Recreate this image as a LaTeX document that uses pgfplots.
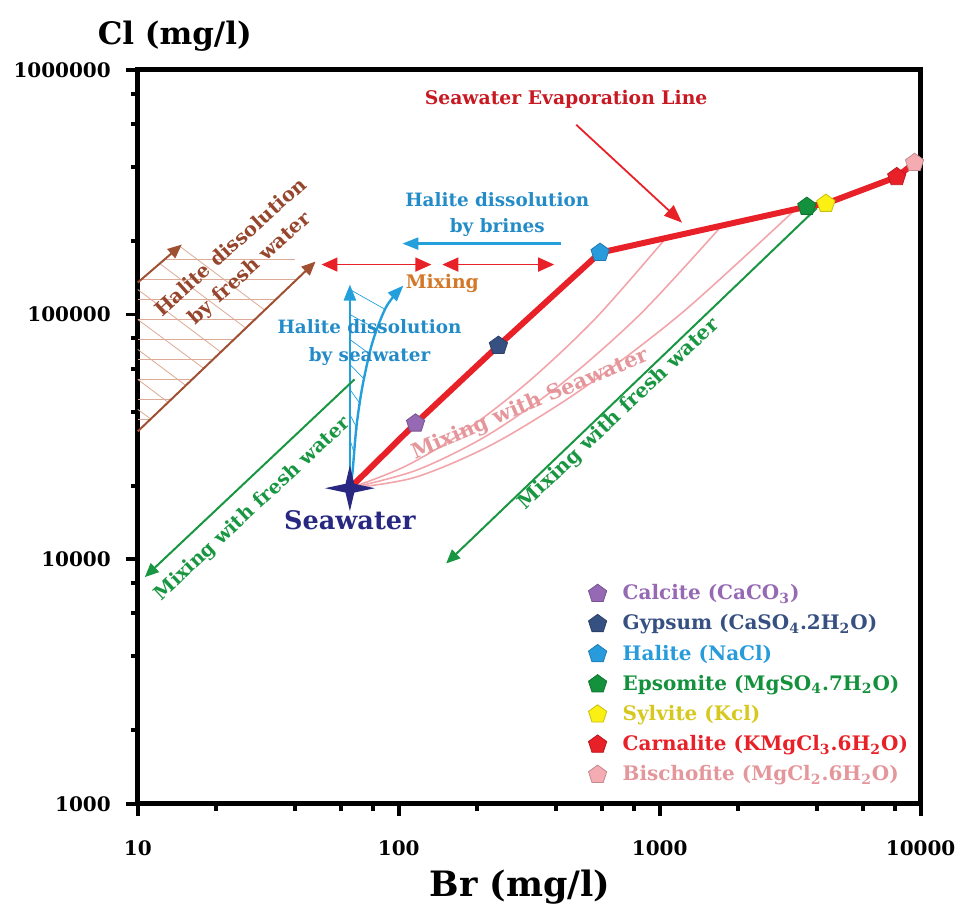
\documentclass[border=0pt]{standalone}
\usepackage{pgfplots}
\pgfplotsset{compat=1.18}
\usepackage{fontspec}
\setmainfont{DejaVu Serif}
\usetikzlibrary{arrows.meta}
\definecolor{evred}{RGB}{232,32,40}
\definecolor{evtext}{RGB}{200,25,35}
\definecolor{mixpink}{RGB}{242,165,170}
\definecolor{mixtext}{RGB}{228,150,155}
\definecolor{hblue}{RGB}{35,160,220}
\definecolor{hbluetext}{RGB}{35,140,200}
\definecolor{brownA}{RGB}{160,80,50}
\definecolor{browntext}{RGB}{150,70,45}
\definecolor{hatchbrown}{RGB}{220,170,150}
\definecolor{fgreen}{RGB}{25,150,65}
\definecolor{morange}{RGB}{210,120,40}
\definecolor{navyA}{RGB}{40,40,130}
\definecolor{calc}{RGB}{150,105,180}
\definecolor{gyps}{RGB}{55,80,130}
\definecolor{hal}{RGB}{40,155,220}
\definecolor{eps}{RGB}{20,145,60}
\definecolor{sylv}{RGB}{250,240,20}
\definecolor{sylvtext}{RGB}{215,200,30}
\definecolor{carn}{RGB}{232,32,40}
\definecolor{bisch}{RGB}{244,172,178}
\definecolor{bischtext}{RGB}{228,150,155}
\pgfdeclareplotmark{star4}{%
  \pgfpathmoveto{\pgfqpoint{0pt}{11.5pt}}%
  \pgfpathlineto{\pgfqpoint{2.2pt}{2.2pt}}%
  \pgfpathlineto{\pgfqpoint{12.5pt}{0pt}}%
  \pgfpathlineto{\pgfqpoint{2.2pt}{-2.2pt}}%
  \pgfpathlineto{\pgfqpoint{0pt}{-11.5pt}}%
  \pgfpathlineto{\pgfqpoint{-2.2pt}{-2.2pt}}%
  \pgfpathlineto{\pgfqpoint{-12.5pt}{0pt}}%
  \pgfpathlineto{\pgfqpoint{-2.2pt}{2.2pt}}%
  \pgfpathclose\pgfusepathqfill}
\begin{document}
\begin{tikzpicture}
\begin{axis}[
  xmode=log, ymode=log,
  width=392pt, height=367.5pt, scale only axis,
  xmin=10, xmax=10000, ymin=1000, ymax=1000000,
  clip=false,
  axis line style={line width=2.5pt},
  xtick={10,100,1000,10000},
  xticklabels={\textbf{10},\textbf{100},\textbf{1000},\textbf{10000}},
  ytick={1000,10000,100000,1000000},
  yticklabels={\textbf{1000},\textbf{10000},\textbf{100000},\textbf{1000000}},
  minor xtick={20,40,60,80,200,400,600,800,2000,4000,6000,8000},
  minor ytick={2000,4000,6000,8000,20000,40000,60000,80000,200000,400000,600000,800000},
  tick align=outside, xtick pos=left, ytick pos=left,
  major tick length=6pt, minor tick length=3.5pt,
  every tick/.style={black, line width=2pt},
  tick label style={font=\fontsize{10}{12}\selectfont\bfseries},
  xticklabel style={yshift=-9pt},
  yticklabel style={xshift=-4pt},
  xlabel={Br (mg/l)}, ylabel={Cl (mg/l)},
  label style={font=\fontsize{15.5}{18}\selectfont\bfseries},
  xlabel style={font=\fontsize{17.5}{20}\selectfont\bfseries, at={(rel axis cs:0.5,0)}, anchor=north, yshift=-33pt, xshift=-4.5pt, inner sep=0pt},
  ylabel style={rotate=-90, at={(rel axis cs:0,1)}, anchor=south, xshift=18.5pt, yshift=9pt, inner sep=0pt},
  legend style={at={(rel axis cs:0.5676,0.31)}, anchor=north west, draw=none, fill=none,
    font=\fontsize{10}{12}\selectfont\bfseries, row sep=2pt,
    /tikz/every odd column/.append style={column sep=6pt}},
  legend cell align=left,
]
% bounding box
\path (rel axis cs:-0.176,1.0952) rectangle (rel axis cs:1.051,-0.151);
% brown hatching (halite dissolution by fresh water)
\addplot[forget plot, hatchbrown, line width=0.4pt] coordinates {(12.6,167700)(40,167700)};
\addplot[forget plot, hatchbrown, line width=0.4pt] coordinates {(10.3,139000)(40.7,139000)};
\addplot[forget plot, hatchbrown, line width=0.4pt] coordinates {(10,115100)(33.8,115100)};
\addplot[forget plot, hatchbrown, line width=0.4pt] coordinates {(10,95400)(28.1,95400)};
\addplot[forget plot, hatchbrown, line width=0.4pt] coordinates {(10,79070)(23.4,79070)};
\addplot[forget plot, hatchbrown, line width=0.4pt] coordinates {(10,65520)(19.4,65520)};
\addplot[forget plot, hatchbrown, line width=0.4pt] coordinates {(10,54290)(16.2,54290)};
\addplot[forget plot, hatchbrown, line width=0.4pt] coordinates {(10,44990)(13.4,44990)};
\addplot[forget plot, hatchbrown, line width=0.4pt] coordinates {(10,37270)(11.2,37270)};
\addplot[forget plot, hatchbrown, line width=0.4pt] coordinates {(10,126500)(20.78,70300)};
\addplot[forget plot, hatchbrown, line width=0.4pt] coordinates {(10,95400)(17.89,60200)};
\addplot[forget plot, hatchbrown, line width=0.4pt] coordinates {(10,71970)(15.26,51310)};
\addplot[forget plot, hatchbrown, line width=0.4pt] coordinates {(10,54290)(13.08,43730)};
\addplot[forget plot, hatchbrown, line width=0.4pt] coordinates {(10,40950)(11.21,37380)};
\addplot[forget plot, hatchbrown, line width=0.4pt] coordinates {(12.14,161500)(25.95,87930)};
\addplot[forget plot, hatchbrown, line width=0.4pt] coordinates {(14.48,190100)(30.68,104200)};
% brown arrows
\addplot[forget plot, brownA, line width=1pt, -{Triangle[length=7pt,width=6pt]}] coordinates {(10,33300)(48.0,164600)};
\addplot[forget plot, brownA, line width=1pt, -{Triangle[length=7pt,width=6pt]}] coordinates {(10,135100)(14.74,193100)};
% red mixing double arrows
\addplot[forget plot, evred, line width=0.8pt, {Triangle[length=8pt,width=7pt]}-{Triangle[length=8pt,width=7pt]}] coordinates {(50.6,160000)(133.4,160000)};
\addplot[forget plot, evred, line width=0.8pt, {Triangle[length=8pt,width=7pt]}-{Triangle[length=8pt,width=7pt]}] coordinates {(146.9,160000)(394.3,160000)};
% blue arrow by brines
\addplot[forget plot, hblue, line width=1.2pt, -{Triangle[length=8pt,width=6pt]}] coordinates {(419.4,194900)(103.3,194900)};
% blue hatching by seawater
\addplot[forget plot, hblue, line width=0.35pt] coordinates {(65,126500)(88.9,104800)};
\addplot[forget plot, hblue, line width=0.35pt] coordinates {(65,100000)(82.9,86860)};
\addplot[forget plot, hblue, line width=0.35pt] coordinates {(65,79070)(77.9,68660)};
\addplot[forget plot, hblue, line width=0.35pt] coordinates {(65,62500)(73.9,54290)};
\addplot[forget plot, hblue, line width=0.35pt] coordinates {(65,49410)(71.4,42920)};
\addplot[forget plot, hblue, line width=0.35pt] coordinates {(65,39060)(69.5,33930)};
\addplot[forget plot, hblue, line width=0.35pt] coordinates {(65,30900)(67.7,26830)};
% blue arrows by seawater
\addplot[forget plot, hblue, line width=1.2pt, -{Triangle[length=8pt,width=6pt]}] coordinates {(65,19500)(65,132600)};
\addplot[forget plot, hblue, line width=1.2pt, smooth, -{Triangle[length=8pt,width=6pt]}] coordinates {(65,19500)(66.5,22650)(68.9,34910)(72.6,50830)(79.3,76880)(89.7,107800)(104.2,131300)};
% green arrows mixing with fresh water
\addplot[forget plot, fgreen, line width=1pt, -{Triangle[length=7pt,width=6pt]}] coordinates {(67.7,54290)(10.64,8443)};
% pink mixing with seawater curves
\addplot[forget plot, mixpink, line width=0.8pt, smooth] coordinates {(65,19500)(106.5,24020)(180.8,33610)(316.1,53430)(569.4,96680)(1058,205600)};
\addplot[forget plot, mixpink, line width=0.8pt, smooth] coordinates {(65,19500)(117.9,23170)(221,32280)(426.5,52730)(847.4,100900)(1733,231100)};
\addplot[forget plot, mixpink, line width=0.8pt, smooth] coordinates {(65,19500)(115.8,21610)(229.6,29530)(504.7,49610)(1230,102500)(3327,269800)};
\addplot[forget plot, fgreen, line width=1pt, -{Triangle[length=7pt,width=6pt]}] coordinates {(4000,272000)(152,9600)};
% evaporation line
\addplot[forget plot, evred, line width=3pt, line join=round] coordinates {(65,19500)(116,35900)(241,74600)(591,179000)(3664,276000)(4336,284000)(8100,365000)(9480,417000)};
\addplot[forget plot, evred, line width=0.9pt, -{Triangle[length=9pt,width=7pt]}] coordinates {(479,596400)(1218,237400)};
% seawater star
\addplot[forget plot, only marks, mark=star4, navyA] coordinates {(65,19500)};
% minerals
\addplot[only marks, mark=pentagon*, mark size=4.8pt, draw=calc!80!black, fill=calc] coordinates {(116,35900)};
\addlegendentry{\textcolor{calc}{Calcite (CaCO\textsubscript{3})}}
\addplot[only marks, mark=pentagon*, mark size=4.8pt, draw=gyps!80!black, fill=gyps] coordinates {(241,74600)};
\addlegendentry{\textcolor{gyps}{Gypsum (CaSO\textsubscript{4}.2H\textsubscript{2}O)}}
\addplot[only marks, mark=pentagon*, mark size=4.8pt, draw=hal!80!black, fill=hal] coordinates {(591,179000)};
\addlegendentry{\textcolor{hal}{Halite (NaCl)}}
\addplot[only marks, mark=pentagon*, mark size=4.8pt, draw=eps!80!black, fill=eps] coordinates {(3664,276000)};
\addlegendentry{\textcolor{eps}{Epsomite (MgSO\textsubscript{4}.7H\textsubscript{2}O)}}
\addplot[only marks, mark=pentagon*, mark size=4.8pt, draw=sylv!80!black, fill=sylv] coordinates {(4336,284000)};
\addlegendentry{\textcolor{sylvtext}{Sylvite (Kcl)}}
\addplot[only marks, mark=pentagon*, mark size=4.8pt, draw=carn!80!black, fill=carn] coordinates {(8100,365000)};
\addlegendentry{\textcolor{carn}{Carnalite (KMgCl\textsubscript{3}.6H\textsubscript{2}O)}}
\addplot[only marks, mark=pentagon*, mark size=4.8pt, draw=bisch!80!black, fill=bisch] coordinates {(9480,417000)};
\addlegendentry{\textcolor{bischtext}{Bischofite (MgCl\textsubscript{2}.6H\textsubscript{2}O)}}
% text labels
\node[evtext, font=\fontsize{9.4}{12}\selectfont\bfseries] at (axis cs:438,754500) {Seawater Evaporation Line};
\node[hbluetext, align=center, font=\fontsize{9.2}{13}\selectfont\bfseries] at (axis cs:238.6,256000) {Halite dissolution\\by brines};
\node[morange, font=\fontsize{9.4}{12}\selectfont\bfseries] at (axis cs:146.9,133800) {Mixing};
\node[hbluetext, align=center, font=\fontsize{9.2}{14}\selectfont\bfseries] at (axis cs:77.3,76880) {Halite dissolution\\by seawater};
\node[browntext, align=center, rotate=42, font=\fontsize{9.8}{14}\selectfont\bfseries] at (axis cs:24.8,169300) {Halite dissolution\\by fresh water};
\node[mixtext, rotate=23, font=\fontsize{10.5}{12}\selectfont\bfseries] at (axis cs:319,42900) {Mixing with Seawater};
\node[fgreen, rotate=43.5, font=\fontsize{10}{12}\selectfont\bfseries] at (axis cs:699,39080) {Mixing with fresh water};
\node[fgreen, rotate=43, font=\fontsize{9.7}{12}\selectfont\bfseries] at (axis cs:27.55,16000) {Mixing with fresh water};
\node[navyA, font=\fontsize{12.8}{15}\selectfont\bfseries] at (axis cs:65,14430) {Seawater};
\end{axis}
\end{tikzpicture}
\end{document}
